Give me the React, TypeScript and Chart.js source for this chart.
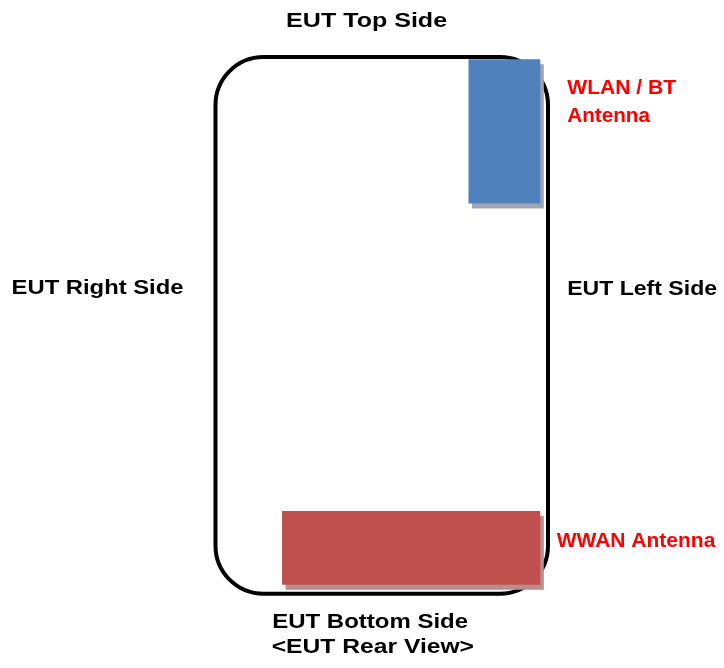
import React, { useEffect, useRef } from "react";
import { Chart, registerables } from "chart.js";

Chart.register(...registerables);

// Device outline (diagram units = page pixels)
const outlineLeft = 215.5;
const outlineRight = 548;
const outlineTop = 57;
const outlineBottom = 593.7;

// Antennas
const antennaNames = ["WLAN / BT Antenna", "WWAN Antenna"];
const antennaLeft = [468.5, 282];
const antennaRight = [540.3, 540.3];
const antennaTop = [59.3, 511];
const antennaBottom = [203.5, 584.7];
const antennaColors = ["#4f81bd", "#c0504d"];
const antennaShadowColors = ["rgb(158,166,182)", "rgb(184,142,142)"];

// Labels
const labelTexts = [
  "EUT Top Side",
  "EUT Right Side",
  "EUT Left Side",
  "WLAN / BT",
  "Antenna",
  "WWAN Antenna",
  "EUT Bottom Side",
  "<EUT Rear View>",
];
const labelLeft = [287.3, 12.7, 568.3, 567.3, 567.3, 556.7, 273.3, 271.7];
const labelBaseline = [27.3, 294.3, 295, 94.3, 122, 546.7, 628.3, 653.3];
const labelInkWidth = [159, 170, 148, 109, 83, 159, 194, 202];
const labelIsAntenna = [false, false, false, true, true, true, false, false];

const SHADOW_DX = 3.5;
const SHADOW_DY = 5;

function rectPoints(l: number, r: number, t: number, b: number) {
  return [
    { x: l, y: t },
    { x: r, y: t },
    { x: r, y: b },
    { x: l, y: b },
    { x: l, y: t },
  ];
}

const outlinePlugin = {
  id: "outline",
  beforeDatasetsDraw(chart: any) {
    const { ctx, scales } = chart;
    const x0 = scales.x.getPixelForValue(outlineLeft);
    const x1 = scales.x.getPixelForValue(outlineRight);
    const y0 = scales.y.getPixelForValue(outlineTop);
    const y1 = scales.y.getPixelForValue(outlineBottom);
    ctx.save();
    ctx.beginPath();
    ctx.roundRect(x0, y0, x1 - x0, y1 - y0, 48);
    ctx.lineWidth = 4;
    ctx.strokeStyle = "#000000";
    ctx.stroke();
    ctx.restore();
  },
};

const labelsPlugin = {
  id: "labels",
  afterDatasetsDraw(chart: any) {
    const { ctx, scales } = chart;
    ctx.save();
    ctx.font = "bold 21px 'Liberation Sans', Arial, sans-serif";
    ctx.textAlign = "left";
    ctx.textBaseline = "alphabetic";
    labelTexts.forEach((t, i) => {
      const m = ctx.measureText(t);
      const ink = m.actualBoundingBoxLeft + m.actualBoundingBoxRight;
      const s = labelInkWidth[i] / ink;
      const px = scales.x.getPixelForValue(labelLeft[i]);
      const py = scales.y.getPixelForValue(labelBaseline[i]);
      ctx.save();
      ctx.translate(px, py);
      ctx.scale(s, 1);
      ctx.fillStyle = labelIsAntenna[i] ? "#ff0000" : "#000000";
      ctx.fillText(t, m.actualBoundingBoxLeft, 0);
      ctx.restore();
    });
    ctx.restore();
  },
};

export default function App() {
  const ref = useRef<HTMLCanvasElement | null>(null);
  useEffect(() => {
    if (!ref.current) return;
    const shadowSets = antennaNames.map((n, i) => ({
      label: n + " shadow",
      data: rectPoints(
        antennaLeft[i] + SHADOW_DX,
        antennaRight[i] + SHADOW_DX,
        antennaTop[i] + SHADOW_DY,
        antennaBottom[i] + SHADOW_DY
      ),
      order: 2,
      showLine: true,
      fill: "shape",
      backgroundColor: antennaShadowColors[i],
      borderColor: "rgba(0,0,0,0)",
      borderWidth: 0,
      pointRadius: 0,
      tension: 0,
    }));
    const rectSets = antennaNames.map((n, i) => ({
      label: n,
      data: rectPoints(antennaLeft[i], antennaRight[i], antennaTop[i], antennaBottom[i]),
      order: 1,
      showLine: true,
      fill: "shape",
      backgroundColor: antennaColors[i],
      borderColor: "rgba(0,0,0,0)",
      borderWidth: 0,
      pointRadius: 0,
      tension: 0,
    }));
    const chart = new Chart(ref.current, {
      type: "scatter",
      data: { datasets: [...rectSets, ...shadowSets] as any },
      options: {
        animation: false,
        responsive: false,
        layout: { padding: 0 },
        plugins: { legend: { display: false }, tooltip: { enabled: false } },
        scales: {
          x: { type: "linear", min: 0, max: 724, display: false },
          y: { type: "linear", min: 0, max: 668, reverse: true, display: false },
        },
      },
      plugins: [outlinePlugin, labelsPlugin],
    });
    return () => chart.destroy();
  }, []);
  return (
    <div style={{ position: "fixed", left: 0, top: 0, width: 724, height: 668, background: "#fff" }}>
      <canvas ref={ref} width={724} height={668} />
    </div>
  );
}
